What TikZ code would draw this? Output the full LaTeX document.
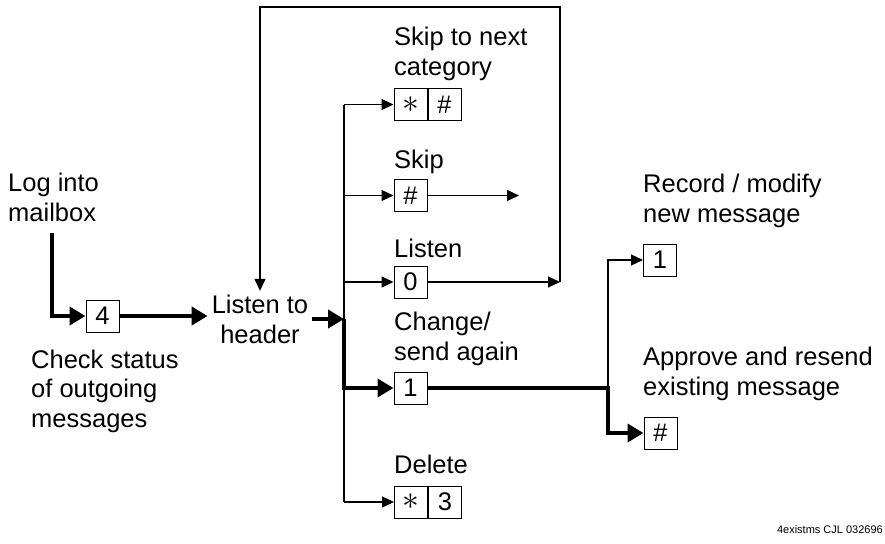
\documentclass[tikz,border=0pt]{standalone}
\usepackage{fontspec}
\setmainfont{Liberation Sans}
\usetikzlibrary{arrows.meta}

\newcommand{\mbtext}{\fontsize{25.5}{29.5}\selectfont}
\newcommand{\keystar}{\scalebox{1.35}{$\ast$}}

\begin{document}
\begin{tikzpicture}[x=1pt, y=-1pt,
    keybox/.style={draw, line width=1pt, minimum width=33pt, minimum height=32pt, inner sep=0pt, font=\mbtext},
    lbl/.style={anchor=base west, align=left, inner sep=0pt, font=\mbtext},
    branch/.style={line width=1.2pt, -{Triangle[length=12pt,width=11pt]}},
    bold/.style={line width=4pt, -{Triangle[length=16pt,width=18pt]}}]
  \useasboundingbox (0,0) rectangle (885,543);

  \node[lbl] (login) at (8,221) {Log into\\mailbox};
  \node[keybox] (k4) at (102.5,316) {4};
  \node[lbl] (check) at (31,427) {Check status\\of outgoing\\messages};
  \node[font=\mbtext, align=center, inner sep=4pt, anchor=base] (header) at (260,343) {Listen to\\header};

  \node[lbl] (skipnext) at (394,75) {Skip to next\\category};
  \node[keybox] (kst) at (410.5,104.5) {\keystar};
  \node[keybox, anchor=west] (kh) at (kst.east) {\#};
  \node[lbl] (skip) at (394,168) {Skip};
  \node[keybox] (kskip) at (410.5,195.5) {\#};
  \node[lbl] (listen) at (394,257) {Listen};
  \node[keybox] (k0) at (410.5,282) {0};
  \node[lbl] (change) at (394,360) {Change/\\send again};
  \node[keybox] (k1) at (410.5,388) {1};
  \node[lbl] (delete) at (394,473) {Delete};
  \node[keybox] (kd) at (411,502) {\keystar};
  \node[keybox, anchor=west] (k3) at (kd.east) {3};

  \node[lbl] (record) at (643,222) {Record / modify\\new message};
  \node[keybox] (kr1) at (660,260) {1};
  \node[lbl] (approve) at (643,395) {Approve and resend\\existing message};
  \node[keybox] (kr2) at (660.5,433) {\#};

  \node[font=\fontsize{11}{13}\selectfont, anchor=base east, inner sep=0pt] (stamp) at (883,533) {4existms CJL 032696};

  \coordinate (loginfoot) at (52,233);
  \coordinate (fork) at (344,319);
  \coordinate (skipend) at (519,195.5);
  \coordinate (loopse) at (560,282);
  \coordinate (loopne) at (560,7);
  \coordinate (split) at (608,388);

  \draw[bold] (loginfoot) -- (loginfoot |- k4.west) -- (k4.west);
  \draw[bold] (k4.east) -- (k4.east -| header.west);
  \draw[bold] (header.east |- fork) -- (fork);
  \draw[bold] (fork) -- (fork |- k1.west) -- (k1.west);

  \draw[line width=1.2pt] (fork |- kst.west) -- (fork |- kd.west);
  \draw[branch] (fork |- kst.west) -- (kst.west);
  \draw[branch] (fork |- kskip.west) -- (kskip.west);
  \draw[branch] (fork |- k0.west) -- (k0.west);
  \draw[branch] (fork |- kd.west) -- (kd.west);

  \draw[branch] (kskip.east) -- (skipend);
  \draw[branch] (k0.east) -- (loopse);
  \draw[branch] (loopse) -- (loopne) -- (loopne -| header.north) -- (header.north);

  \draw[bold] (k1.east) -- (split) -- (split |- kr2.west) -- (kr2.west);
  \draw[branch] (split) -- (split |- kr1.west) -- (kr1.west);
\end{tikzpicture}
\end{document}
